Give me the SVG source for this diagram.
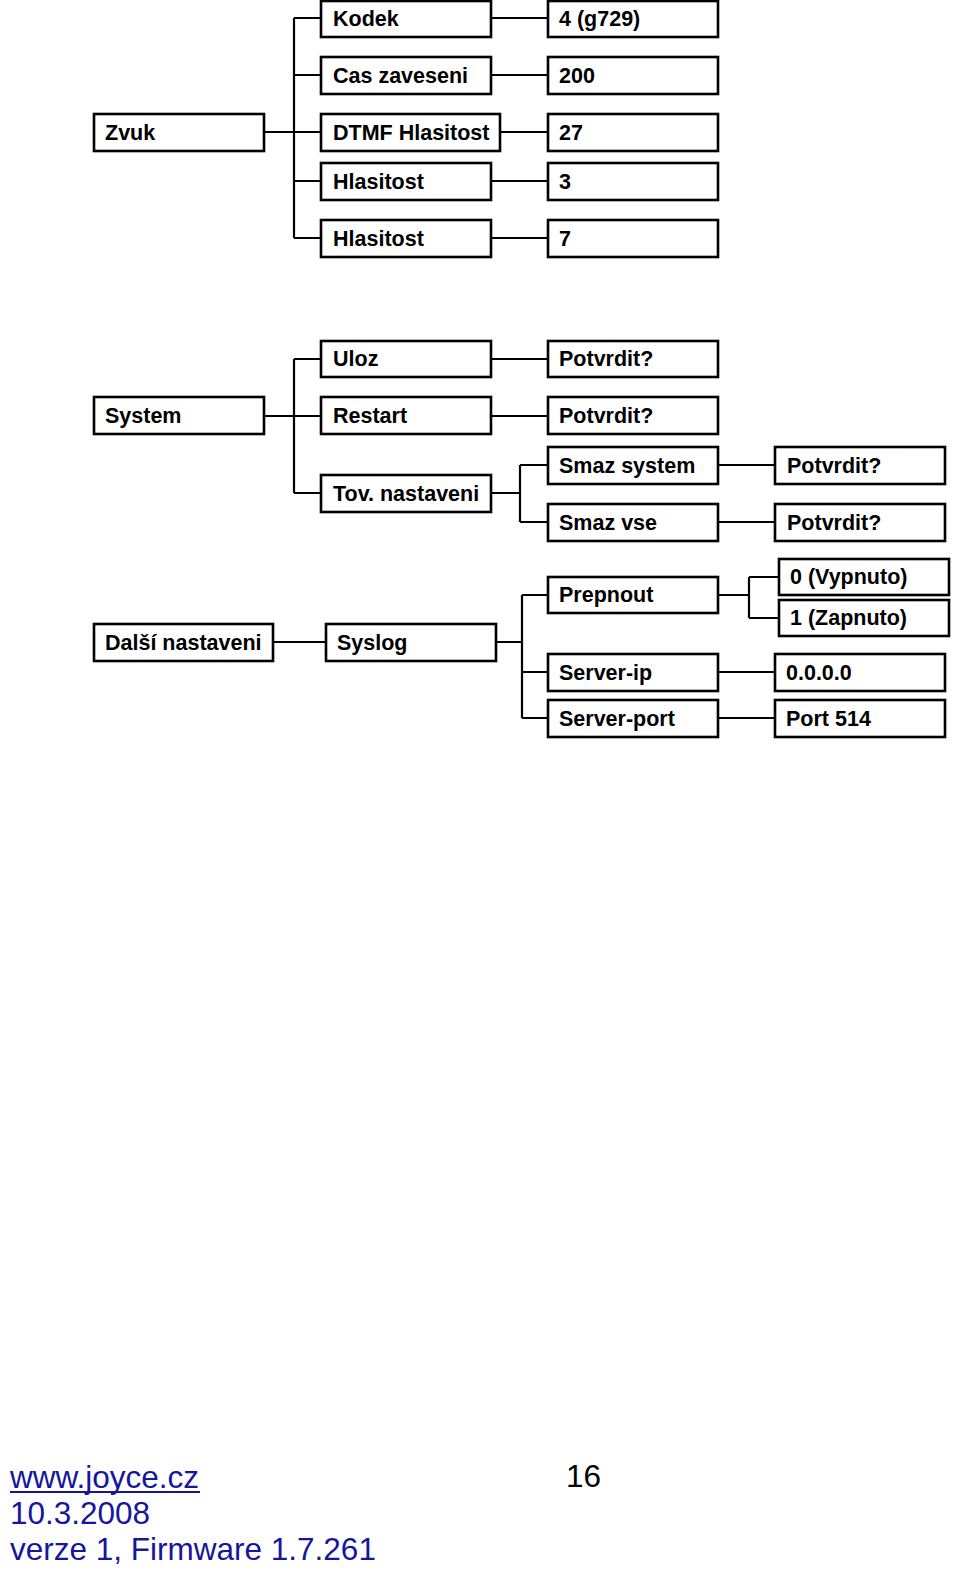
<svg xmlns="http://www.w3.org/2000/svg" width="960" height="1573" viewBox="0 0 960 1573">
<style>
.b{fill:#fff;stroke:#000;stroke-width:2.6}
.t{font-family:"Liberation Sans",Arial,sans-serif;font-weight:bold;font-size:21.5px;fill:#000}
.c{fill:none;stroke:#000;stroke-width:2.2}
.f{font-family:"Liberation Sans",Arial,sans-serif;font-size:31.5px;fill:#16169c}
</style>
<rect width="960" height="1573" fill="#fff"/>
<g id="connectors">
<path class="c" d="M264 132H294M294 18V238M294 18H321M294 75H321M294 132H321M294 181H321M294 238H321"/>
<path class="c" d="M491 18H548M491 75H548M500 132H548M491 181H548M491 238H548"/>
<path class="c" d="M264 416H294M294 359V493M294 359H321M294 416H321M294 493H321"/>
<path class="c" d="M491 359H548M491 416H548M491 493H520M520 465V522M520 465H548M520 522H548M718 465H775M718 522H775"/>
<path class="c" d="M273 642H326M496 642H522M522 595V718M522 595H548M522 672H548M522 718H548"/>
<path class="c" d="M718 595H749M749 577V618M749 577H779M749 618H779M718 672H775M718 718H775"/>
</g>
<g id="zvuk"><rect class="b" x="94" y="114" width="170" height="37"/><text class="t" x="105" y="140">Zvuk</text></g>
<g id="kodek"><rect class="b" x="321" y="1" width="170" height="36"/><text class="t" x="333" y="26">Kodek</text></g>
<g id="kodek-v"><rect class="b" x="548" y="1" width="170" height="36"/><text class="t" x="559" y="26">4 (g729)</text></g>
<g id="cas"><rect class="b" x="321" y="57" width="170" height="37"/><text class="t" x="333" y="83">Cas zaveseni</text></g>
<g id="cas-v"><rect class="b" x="548" y="57" width="170" height="37"/><text class="t" x="559" y="83">200</text></g>
<g id="dtmf"><rect class="b" x="321" y="114" width="179" height="37"/><text class="t" x="333" y="140">DTMF Hlasitost</text></g>
<g id="dtmf-v"><rect class="b" x="548" y="114" width="170" height="37"/><text class="t" x="559" y="140">27</text></g>
<g id="hl1"><rect class="b" x="321" y="163" width="170" height="37"/><text class="t" x="333" y="189">Hlasitost</text></g>
<g id="hl1-v"><rect class="b" x="548" y="163" width="170" height="37"/><text class="t" x="559" y="189">3</text></g>
<g id="hl2"><rect class="b" x="321" y="220" width="170" height="37"/><text class="t" x="333" y="246">Hlasitost</text></g>
<g id="hl2-v"><rect class="b" x="548" y="220" width="170" height="37"/><text class="t" x="559" y="246">7</text></g>
<g id="system"><rect class="b" x="94" y="397" width="170" height="37"/><text class="t" x="105" y="423">System</text></g>
<g id="uloz"><rect class="b" x="321" y="341" width="170" height="36"/><text class="t" x="333" y="366">Uloz</text></g>
<g id="uloz-v"><rect class="b" x="548" y="341" width="170" height="36"/><text class="t" x="559" y="366">Potvrdit?</text></g>
<g id="restart"><rect class="b" x="321" y="397" width="170" height="37"/><text class="t" x="333" y="423">Restart</text></g>
<g id="restart-v"><rect class="b" x="548" y="397" width="170" height="37"/><text class="t" x="559" y="423">Potvrdit?</text></g>
<g id="tov"><rect class="b" x="321" y="475" width="170" height="37"/><text class="t" x="333" y="501">Tov. nastaveni</text></g>
<g id="smazsys"><rect class="b" x="548" y="447" width="170" height="37"/><text class="t" x="559" y="473">Smaz system</text></g>
<g id="smazsys-v"><rect class="b" x="775" y="447" width="170" height="37"/><text class="t" x="787" y="473">Potvrdit?</text></g>
<g id="smazvse"><rect class="b" x="548" y="504" width="170" height="37"/><text class="t" x="559" y="530">Smaz vse</text></g>
<g id="smazvse-v"><rect class="b" x="775" y="504" width="170" height="37"/><text class="t" x="787" y="530">Potvrdit?</text></g>
<g id="dalsi"><rect class="b" x="94" y="624" width="179" height="37"/><text class="t" x="105" y="650">Další nastaveni</text></g>
<g id="syslog"><rect class="b" x="326" y="624" width="170" height="37"/><text class="t" x="337" y="650">Syslog</text></g>
<g id="prepnout"><rect class="b" x="548" y="577" width="170" height="36"/><text class="t" x="559" y="602">Prepnout</text></g>
<g id="vyp"><rect class="b" x="779" y="559" width="170" height="36"/><text class="t" x="790" y="584">0 (Vypnuto)</text></g>
<g id="zap"><rect class="b" x="779" y="600" width="170" height="36"/><text class="t" x="790" y="625">1 (Zapnuto)</text></g>
<g id="serverip"><rect class="b" x="548" y="654" width="170" height="37"/><text class="t" x="559" y="680">Server-ip</text></g>
<g id="serverip-v"><rect class="b" x="775" y="654" width="170" height="37"/><text class="t" x="786" y="680">0.0.0.0</text></g>
<g id="serverport"><rect class="b" x="548" y="700" width="170" height="37"/><text class="t" x="559" y="726">Server-port</text></g>
<g id="serverport-v"><rect class="b" x="775" y="700" width="170" height="37"/><text class="t" x="786" y="726">Port 514</text></g>
<g id="footer">
<text class="f" x="10" y="1488">www.joyce.cz</text>
<line x1="10" y1="1492" x2="200" y2="1492" stroke="#16169c" stroke-width="2"/>
<text class="f" x="10" y="1524">10.3.2008</text>
<text class="f" x="10" y="1560">verze 1, Firmware 1.7.261</text>
<text x="566" y="1487" style="font-family:'Liberation Sans',Arial,sans-serif;font-size:31.5px;fill:#000">16</text>
</g>
</svg>
